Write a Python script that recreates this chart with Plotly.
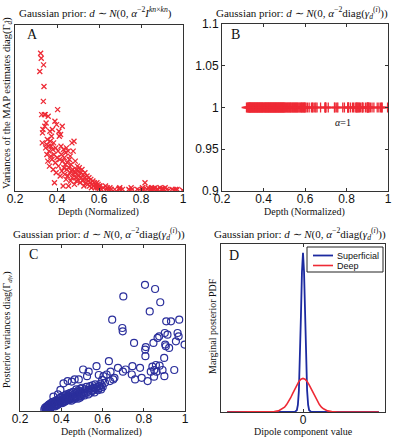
import plotly.graph_objects as go

# depth of each source (normalized) and the two variance estimates read off panels A and C
depth = [
    0.318, 0.322, 0.325, 0.327, 0.330, 0.331, 0.333, 0.335, 0.336, 0.338,
    0.340, 0.342, 0.344, 0.346, 0.348, 0.350, 0.352, 0.354, 0.356, 0.358,
    0.360, 0.362, 0.364, 0.366, 0.368, 0.370, 0.372, 0.374, 0.376, 0.378,
    0.380, 0.382, 0.384, 0.386, 0.388, 0.390, 0.392, 0.394, 0.396, 0.398,
    0.400, 0.403, 0.405, 0.407, 0.409, 0.411, 0.413, 0.415, 0.417, 0.419,
    0.421, 0.423, 0.425, 0.427, 0.429, 0.431, 0.433, 0.435, 0.437, 0.439,
    0.441, 0.443, 0.445, 0.447, 0.449, 0.451, 0.453, 0.455, 0.457, 0.459,
    0.461, 0.463, 0.465, 0.467, 0.469, 0.471, 0.473, 0.475, 0.477, 0.479,
    0.481, 0.483, 0.485, 0.487, 0.489, 0.491, 0.493, 0.495, 0.497, 0.499,
    0.501, 0.504, 0.506, 0.510, 0.513, 0.516, 0.519, 0.522, 0.525, 0.528,
    0.531, 0.533, 0.537, 0.540, 0.543, 0.546, 0.549, 0.552, 0.555, 0.558,
    0.561, 0.564, 0.567, 0.571, 0.575, 0.578, 0.582, 0.584, 0.587, 0.590,
    0.593, 0.596, 0.598, 0.601, 0.605, 0.612, 0.620, 0.631, 0.636, 0.639,
    0.647, 0.652, 0.658, 0.675, 0.696, 0.698, 0.699, 0.701, 0.712, 0.742,
    0.745, 0.753, 0.758, 0.782, 0.790, 0.806, 0.807, 0.808, 0.810, 0.819,
    0.829, 0.834, 0.842, 0.847, 0.850, 0.851, 0.855, 0.859, 0.862, 0.867,
    0.875, 0.877, 0.880, 0.891, 0.899, 0.900, 0.902, 0.904, 0.907, 0.909,
    0.915, 0.923, 0.932, 0.948, 0.956, 0.964, 0.969, 0.972, 0.998,
]

map_var = [
    0.72, 0.83, 0.80, 0.46, 0.29, 0.35, 0.37, 0.54, 0.76, 0.63,
    0.46, 0.39, 0.46, 0.26, 0.41, 0.28, 0.22, 0.31, 0.18, 0.45,
    0.27, 0.24, 0.15, 0.36, 0.30, 0.21, 0.27, 0.33, 0.19, 0.37,
    0.25, 0.13, 0.29, 0.22, 0.05, 0.42, 0.17, 0.26, 0.11, 0.40,
    0.20, 0.49, 0.24, 0.15, 0.36, 0.33, 0.19, 0.09, 0.34, 0.27,
    0.22, 0.12, 0.39, 0.18, 0.03, 0.25, 0.14, 0.20, 0.10, 0.16,
    0.23, 0.07, 0.26, 0.13, 0.17, 0.09, 0.24, 0.03, 0.14, 0.19,
    0.11, 0.21, 0.06, 0.16, 0.12, 0.29, 0.08, 0.13, 0.24, 0.10,
    0.30, 0.04, 0.11, 0.18, 0.08, 0.13, 0.06, 0.10, 0.15, 0.07,
    0.12, 0.09, 0.14, 0.05, 0.11, 0.08, 0.13, 0.06, 0.10, 0.03,
    0.08, 0.11, 0.05, 0.07, 0.09, 0.04, 0.06, 0.08, 0.03, 0.05,
    0.07, 0.02, 0.04, 0.06, 0.03, 0.05, 0.02, 0.04, 0.03, 0.05,
    0.02, 0.04, 0.01, 0.03, 0.03, 0.01, 0.02, 0.03, 0.01, 0.02,
    0.01, 0.02, 0.01, 0.01, 0.015, 0.01, 0.02, 0.005, 0.01, 0.01,
    0.005, 0.02, 0.01, 0.01, 0.005, 0.01, 0.02, 0.01, 0.005, 0.05,
    0.01, 0.02, 0.005, 0.01, 0.02, 0.01, 0.005, 0.015, 0.01, 0.02,
    0.01, 0.005, 0.01, 0.02, 0.01, 0.005, 0.01, 0.015, 0.005, 0.01,
    0.02, 0.01, 0.005, 0.01, 0.005, 0.01, 0.005, 0.01, 0.005,
]

post_var = [
    0.010, 0.020, 0.006, 0.015, 0.028, 0.010, 0.022, 0.030, 0.008, 0.035,
    0.018, 0.040, 0.012, 0.030, 0.045, 0.020, 0.036, 0.050, 0.025, 0.042,
    0.055, 0.086, 0.030, 0.048, 0.038, 0.060, 0.028, 0.052, 0.044, 0.066,
    0.035, 0.058, 0.100, 0.040, 0.062, 0.050, 0.078, 0.045, 0.127, 0.060,
    0.082, 0.052, 0.070, 0.048, 0.090, 0.167, 0.064, 0.080, 0.055, 0.095,
    0.072, 0.060, 0.100, 0.068, 0.085, 0.180, 0.092, 0.075, 0.105, 0.066,
    0.088, 0.072, 0.110, 0.080, 0.062, 0.177, 0.095, 0.078, 0.115, 0.070,
    0.100, 0.085, 0.190, 0.076, 0.108, 0.090, 0.130, 0.082, 0.112, 0.096,
    0.074, 0.125, 0.190, 0.088, 0.118, 0.080, 0.135, 0.098, 0.112, 0.090,
    0.140, 0.102, 0.250, 0.118, 0.094, 0.130, 0.108, 0.145, 0.210, 0.115,
    0.100, 0.237, 0.128, 0.150, 0.110, 0.135, 0.120, 0.155, 0.125, 0.140,
    0.112, 0.160, 0.132, 0.270, 0.145, 0.125, 0.217, 0.150, 0.138, 0.165,
    0.130, 0.155, 0.187, 0.145, 0.210, 0.170, 0.220, 0.300, 0.180, 0.237,
    0.550, 0.190, 0.200, 0.260, 0.500, 0.480, 0.237, 0.690, 0.250, 0.220,
    0.270, 0.410, 0.190, 0.260, 0.200, 0.760, 0.370, 0.330, 0.385, 0.180,
    0.600, 0.237, 0.267, 0.410, 0.207, 0.247, 0.735, 0.277, 0.237, 0.440,
    0.450, 0.273, 0.655, 0.247, 0.320, 0.210, 0.470, 0.400, 0.390, 0.540,
    0.460, 0.380, 0.540, 0.247, 0.420, 0.470, 0.450, 0.550, 0.400,
]

# panel B: prior variance is alpha^-2 = 1 for every source
prior_var = [1.0] * len(depth)

# panel D: marginal posterior pdfs
deep_x = [-3.7, -1.7, -1.4, -1.2, -1.0, -0.9, -0.8, -0.7, -0.6, -0.5, -0.4, -0.3, -0.2, -0.1, 0.0,
          0.1, 0.2, 0.3, 0.4, 0.5, 0.6, 0.7, 0.8, 0.9, 1.0, 1.2, 1.4, 1.7, 3.7]
deep_pdf = [0.0, 0.0, 0.002, 0.0067, 0.019, 0.029, 0.044, 0.063, 0.085, 0.111, 0.137, 0.162, 0.182, 0.195, 0.200,
            0.195, 0.182, 0.162, 0.137, 0.111, 0.085, 0.063, 0.044, 0.029, 0.019, 0.0067, 0.002, 0.0, 0.0]
sup_x = [-3.7, -0.4, -0.3, -0.25, -0.2, -0.15, -0.1, -0.05, 0.0, 0.05, 0.1, 0.15, 0.2, 0.25, 0.3, 0.4, 3.7]
sup_pdf = [0.0, 0.0, 0.0105, 0.042, 0.128, 0.308, 0.575, 0.836, 0.948, 0.836, 0.575, 0.308, 0.128, 0.042, 0.0105, 0.0, 0.0]

depth_ticks = [0.2, 0.4, 0.6, 0.8, 1.0]
depth_ticktext = ["0.2", "0.4", "0.6", "0.8", "1"]
b_ticks = [0.9, 0.95, 1.0, 1.05, 1.1]
b_ticktext = ["0.9", "0.95", "1", "1.05", "1.1"]

RED = "#ee2a35"
BLUE = "#2b2f9c"
DBLUE = "#1c2aa0"
SERIF = "Liberation Serif"
SANS = "Liberation Sans"
W, H = 399, 440

fig = go.Figure()
fig.add_trace(go.Scatter(x=depth, y=map_var, mode="markers", xaxis="x", yaxis="y",
                         marker=dict(symbol="x-thin", size=5, line=dict(width=1.3, color=RED))))
fig.add_trace(go.Scatter(x=depth, y=prior_var, mode="markers", xaxis="x2", yaxis="y2",
                         marker=dict(symbol="cross-thin", size=7, line=dict(width=1.3, color=RED))))
fig.add_trace(go.Scatter(x=depth, y=post_var, mode="markers", xaxis="x3", yaxis="y3",
                         marker=dict(symbol="circle-open", size=7, color=BLUE, line=dict(width=1.2, color=BLUE))))
fig.add_trace(go.Scatter(x=sup_x, y=sup_pdf, mode="lines", xaxis="x4", yaxis="y4", name="Superficial",
                         line=dict(color=DBLUE, width=1.8)))
fig.add_trace(go.Scatter(x=deep_x, y=deep_pdf, mode="lines", xaxis="x4", yaxis="y4", name="Deep",
                         line=dict(color=RED, width=1.6)))


def px_x(p):
    return p / W


def px_y(p):
    return 1 - p / H


axis_common = dict(showline=True, linecolor="#333", linewidth=1, showgrid=False, zeroline=False,
                   automargin=False, ticks="inside", ticklen=3, tickcolor="#333",
                   tickfont=dict(family=SANS, size=12, color="#111"))


def xaxis(dom, anchor, **kw):
    d = dict(axis_common, domain=dom, anchor=anchor, mirror="ticks", ticklabelstandoff=-3)
    d.update(kw)
    return d


layout_axes = dict(
    xaxis=xaxis([px_x(15), px_x(183)], "y", range=[0.2, 1.0], tickvals=depth_ticks, ticktext=depth_ticktext),
    yaxis=dict(axis_common, domain=[px_y(191), px_y(25)], anchor="x", range=[0, 1], mirror=True,
               ticks="", showticklabels=False),
    xaxis2=xaxis([px_x(222), px_x(388)], "y2", range=[0.2, 1.0], tickvals=depth_ticks, ticktext=depth_ticktext),
    yaxis2=dict(axis_common, domain=[px_y(191), px_y(24)], anchor="x2", range=[0.9, 1.1], mirror="ticks",
                tickvals=b_ticks, ticktext=b_ticktext),
    xaxis3=xaxis([px_x(20), px_x(185)], "y3", range=[0.2, 1.0], tickvals=depth_ticks, ticktext=depth_ticktext),
    yaxis3=dict(axis_common, domain=[px_y(411), px_y(245)], anchor="x3", range=[0, 1], mirror=True,
                ticks="", showticklabels=False),
    xaxis4=xaxis([px_x(221), px_x(385)], "y4", range=[-4, 4], tickvals=[0], ticktext=["0"]),
    yaxis4=dict(axis_common, domain=[px_y(412), px_y(244)], anchor="x4", range=[0, 1], mirror=True,
                ticks="", showticklabels=False),
)

title_b = "Gaussian prior: <i>d</i> ∼ <i>N</i>(0, <i>α</i><sup>−2</sup>diag(<i>γ</i><sub><i>d</i></sub><sup>(<i>i</i>)</sup>))"
title_a = "Gaussian prior: <i>d</i> ∼ <i>N</i>(0, <i>α</i><sup>−2</sup><i>I</i><sup><i>kn</i>×<i>kn</i></sup>)"

texts = [
    # (text, x px, y px, size, angle, family, anchor)
    (title_a, 95, 13, 11, 0, SERIF, "center"),
    (title_b, 302, 13, 11, 0, SERIF, "center"),
    (title_b, 99, 234, 11, 0, SERIF, "center"),
    (title_b, 300, 234, 11, 0, SERIF, "center"),
    ("Depth (Normalized)", 98, 212, 10, 0, SERIF, "center"),
    ("Depth (Normalized)", 304, 212, 10, 0, SERIF, "center"),
    ("Depth (Normalized)", 101, 432, 10, 0, SERIF, "center"),
    ("Dipole component value", 303, 431, 10, 0, SERIF, "center"),
    ("Variances of the MAP estimates diag(Γ<sub><i>d̂</i></sub>)", 7, 103, 10.5, -90, SERIF, "center"),
    ("Posterior variances diag(Γ<sub><i>d</i>|<i>v</i></sub>)", 7, 330, 10, -90, SERIF, "center"),
    ("Marginal posterior PDF", 212, 326, 10, -90, SERIF, "center"),
    ("A", 32, 34, 14, 0, SERIF, "center"),
    ("B", 235, 34, 14, 0, SERIF, "center"),
    ("C", 33, 254, 14, 0, SERIF, "center"),
    ("D", 234, 255, 14, 0, SERIF, "center"),
    ("<i>α</i>=1", 343, 122, 10, 0, SERIF, "center"),
    ("Superficial", 335, 255.5, 9, 0, SANS, "left"),
    ("Deep", 335, 265.5, 9, 0, SANS, "left"),
]

annotations = []
for t, x, y, s, a, fam, anc in texts:
    annotations.append(dict(text=t, x=px_x(x), y=px_y(y), xref="paper", yref="paper",
                            xanchor=anc, yanchor="middle", showarrow=False, textangle=a,
                            font=dict(family=fam, size=s, color="#111")))

# legend box of panel D
shapes = [
    dict(type="rect", xref="paper", yref="paper", x0=px_x(307), x1=px_x(383), y0=px_y(272), y1=px_y(247),
         line=dict(color="#222", width=1), fillcolor="white", layer="above"),
    dict(type="line", xref="paper", yref="paper", x0=px_x(313), x1=px_x(333), y0=px_y(255.5), y1=px_y(255.5),
         line=dict(color=DBLUE, width=1.8), layer="above"),
    dict(type="line", xref="paper", yref="paper", x0=px_x(313), x1=px_x(333), y0=px_y(265.5), y1=px_y(265.5),
         line=dict(color=RED, width=1.6), layer="above"),
]

fig.update_layout(
    template="none",
    width=W, height=H,
    margin=dict(l=0, r=0, t=0, b=0, pad=0, autoexpand=False),
    paper_bgcolor="white", plot_bgcolor="white",
    showlegend=False,
    annotations=annotations,
    shapes=shapes,
    **layout_axes,
)

fig.write_html("out.html", config={"displayModeBar": False},
               post_script="document.body.style.margin='0px';")
